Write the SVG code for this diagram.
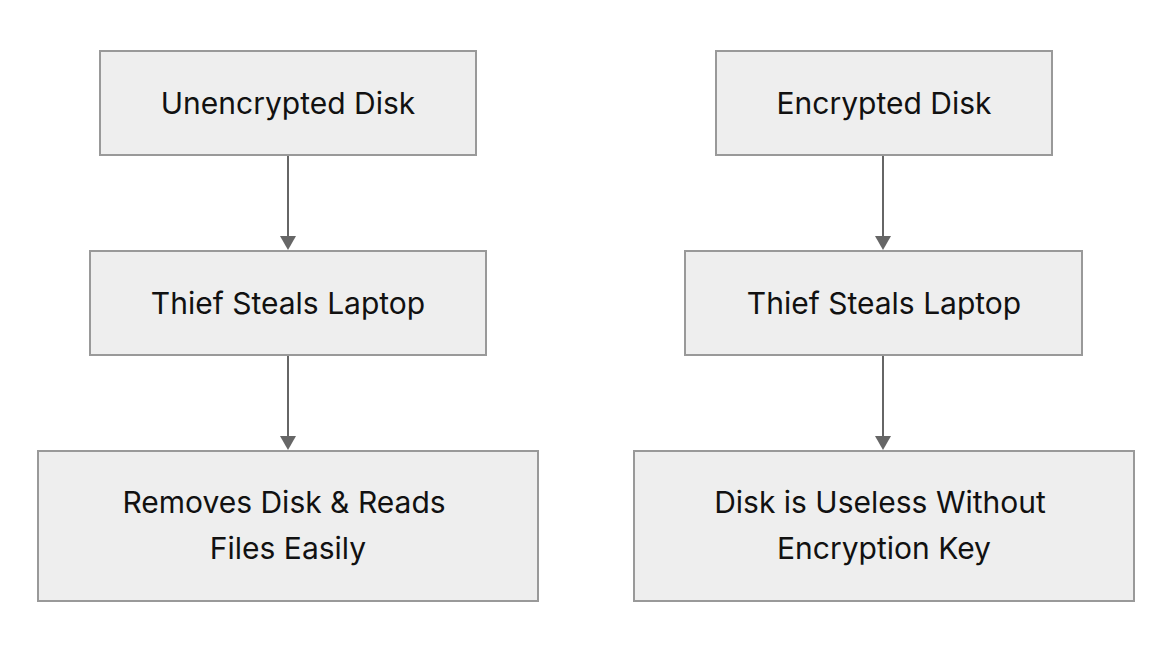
<svg xmlns="http://www.w3.org/2000/svg" width="1172" height="652" viewBox="0 0 1172 652">
<style>
.box{fill:#eeeeee;stroke:#999999;stroke-width:2}
.t{font-family:Inter,"Liberation Sans",sans-serif;font-size:30px;fill:#111;text-anchor:middle}
.c{stroke:#666666;stroke-width:2;fill:none}
.h{fill:#666666}
</style>
<rect width="1172" height="652" fill="#fff"/>
<g id="connectors">
<path class="c" d="M288,155 V236"/><path class="h" d="M280,236 h16 l-8,14z"/>
<path class="c" d="M288,355 V436"/><path class="h" d="M280,436 h16 l-8,14z"/>
<path class="c" d="M883,155 V236"/><path class="h" d="M875,236 h16 l-8,14z"/>
<path class="c" d="M883,355 V436"/><path class="h" d="M875,436 h16 l-8,14z"/>
</g>
<g id="n1"><rect class="box" x="100" y="51" width="376" height="104"/><text class="t" x="288" y="114">Unencrypted Disk</text></g>
<g id="n2"><rect class="box" x="90" y="251" width="396" height="104"/><text class="t" x="288" y="314">Thief Steals Laptop</text></g>
<g id="n3"><rect class="box" x="38" y="451" width="500" height="150"/><text class="t" x="284" y="513">Removes Disk &amp; Reads</text><text class="t" x="288" y="559">Files Easily</text></g>
<g id="n4"><rect class="box" x="716" y="51" width="336" height="104"/><text class="t" x="884" y="114">Encrypted Disk</text></g>
<g id="n5"><rect class="box" x="685" y="251" width="397" height="104"/><text class="t" x="884" y="314">Thief Steals Laptop</text></g>
<g id="n6"><rect class="box" x="634" y="451" width="500" height="150"/><text class="t" x="880" y="513">Disk is Useless Without</text><text class="t" x="884" y="559">Encryption Key</text></g>
</svg>
